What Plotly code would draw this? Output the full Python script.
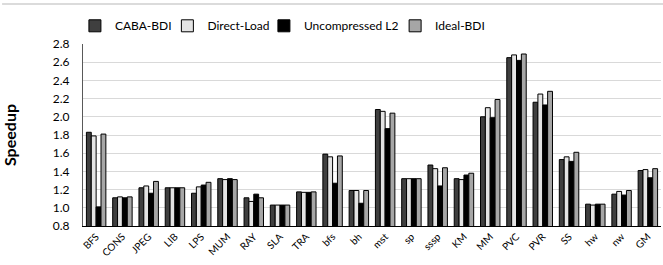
import plotly.graph_objects as go

categories = ["BFS", "CONS", "JPEG", "LIB", "LPS", "MUM", "RAY", "SLA", "TRA", "bfs", "bh", "mst",
              "sp", "sssp", "KM", "MM", "PVC", "PVR", "SS", "hw", "nw", "GM"]
caba_bdi = [1.83, 1.11, 1.22, 1.22, 1.16, 1.32, 1.11, 1.03, 1.175, 1.59, 1.19, 2.08,
            1.32, 1.47, 1.32, 2.00, 2.65, 2.16, 1.53, 1.04, 1.15, 1.41]
direct_load = [1.79, 1.12, 1.24, 1.22, 1.23, 1.31, 1.07, 1.03, 1.17, 1.56, 1.19, 2.06,
               1.32, 1.43, 1.31, 2.10, 2.68, 2.25, 1.56, 1.03, 1.18, 1.42]
uncompressed_l2 = [1.01, 1.11, 1.16, 1.22, 1.25, 1.32, 1.15, 1.03, 1.17, 1.27, 1.05, 1.87,
                   1.32, 1.24, 1.36, 1.99, 2.62, 2.13, 1.51, 1.04, 1.14, 1.33]
ideal_bdi = [1.81, 1.12, 1.29, 1.22, 1.28, 1.31, 1.11, 1.03, 1.175, 1.57, 1.19, 2.04,
             1.32, 1.44, 1.38, 2.19, 2.69, 2.28, 1.61, 1.04, 1.19, 1.43]
y_ticks = [0.8, 1.0, 1.2, 1.4, 1.6, 1.8, 2.0, 2.2, 2.4, 2.6, 2.8]

series = [
    ("CABA-BDI", caba_bdi, "#3f3f3f"),
    ("Direct-Load", direct_load, "#e4e4e4"),
    ("Uncompressed L2", uncompressed_l2, "#000000"),
    ("Ideal-BDI", ideal_bdi, "#a6a6a6"),
]
legend_ids = ["legend", "legend2", "legend3", "legend4"]
legend_x = [-0.014, 0.146, 0.313, 0.540]

font_family = "Lato, 'Open Sans', sans-serif"

fig = go.Figure()
for (name, vals, color), lid in zip(series, legend_ids):
    fig.add_trace(go.Bar(
        x=categories, y=vals, name=name, legend=lid,
        marker=dict(color=color, line=dict(color="#000000", width=1)),
    ))

legend_layout = {}
for lid, lx in zip(legend_ids, legend_x):
    legend_layout[lid] = dict(orientation="h", x=lx, xanchor="left", y=1.10, yanchor="middle",
                              font=dict(size=12, family=font_family), itemwidth=30,
                              bgcolor="rgba(0,0,0,0)")

fig.update_layout(
    width=663, height=265,
    margin=dict(l=83, r=2, t=44, b=39, autoexpand=False),
    paper_bgcolor="white", plot_bgcolor="white",
    barmode="group", bargap=0.26, bargroupgap=0.0,
    font=dict(family=font_family, color="#000000"),
    showlegend=True,
    xaxis=dict(tickangle=-45, tickfont=dict(size=10), showgrid=False,
               showline=True, linecolor="#000000", linewidth=1, ticks="",
               automargin=False, range=[-0.5, len(categories) - 0.5]),
    yaxis=dict(range=[0.8, 2.8], tickvals=y_ticks, ticktext=[f"{v:.1f}" for v in y_ticks],
               tickfont=dict(size=12), showgrid=True, gridcolor="#d9d9d9", gridwidth=1,
               showline=True, linecolor="#595959", linewidth=1, ticks="",
               ticklabelstandoff=10, automargin=False,
               title=dict(text="<b>Speedup</b>", font=dict(size=16), standoff=34),
               zeroline=False),
    shapes=[dict(type="line", xref="paper", yref="paper", x0=-0.14, x1=1.01,
                 y0=1.22, y1=1.22, line=dict(color="#cfcfcf", width=1.5))],
    **legend_layout,
)

fig.write_html("out.html", config={"displayModeBar": False},
               post_script="document.body.style.margin='0';")
